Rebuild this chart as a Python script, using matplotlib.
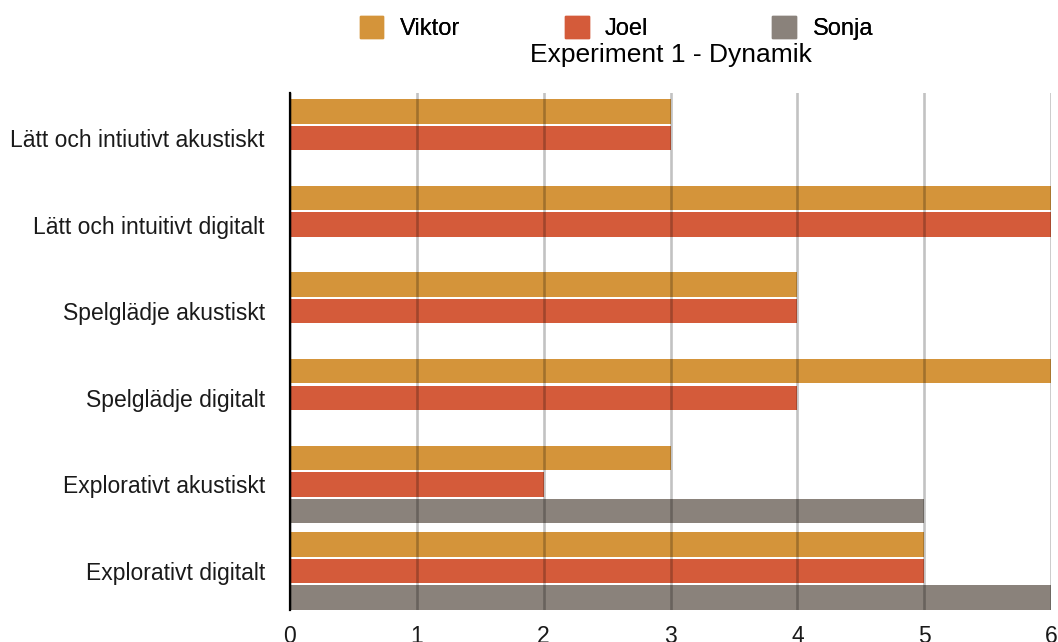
import numpy as np
import matplotlib.pyplot as plt
from matplotlib.patches import Patch

plt.rcParams['font.family'] = ['Liberation Sans', 'DejaVu Sans']

# Data
kategorier = ["Lätt och intiutivt akustiskt", "Lätt och intuitivt digitalt",
              "Spelglädje akustiskt", "Spelglädje digitalt",
              "Explorativt akustiskt", "Explorativt digitalt"]
viktor = [3, 6, 4, 6, 3, 5]
joel = [3, 6, 4, 4, 2, 5]
sonja = [0, 0, 0, 0, 5, 6]
namn = ["Viktor", "Joel", "Sonja"]
farger = ["#D4943A", "#D45B3A", "#8A827B"]

fig = plt.figure(figsize=(10.58, 6.42), dpi=100)
ax = fig.add_axes([0.274, 0.05, 0.7195, 0.805])

y = np.arange(len(kategorier))
steg = 0.307
hojd = 0.282
for i, (serie, farg) in enumerate(zip([viktor, joel, sonja], farger)):
    ax.barh(y + (i - 1) * steg, serie, height=hojd, color=farg, zorder=1)

ax.set_ylim(5.45, -0.52)
ax.set_xlim(0, 6)
ax.set_yticks(y)
ax.set_yticklabels(kategorier, fontsize=16.5, color='#1a1a1a')
ax.set_xticks(range(7))
ax.tick_params(axis='both', length=0, labelsize=16.5, labelcolor='#1a1a1a')
ax.tick_params(axis='y', pad=18)
ax.tick_params(axis='x', pad=11)
ax.grid(axis='x', color='black', alpha=0.24, linewidth=1.9, zorder=3)
ax.set_axisbelow(False)
for s in ['top', 'right', 'bottom']:
    ax.spines[s].set_visible(False)
ax.spines['left'].set_linewidth(1.6)
ax.spines['left'].set_zorder(4)

# Legend, one entry per column
xpos = [0.340, 0.534, 0.730]
for n, farg, xp in zip(namn, farger, xpos):
    leg = fig.legend(handles=[Patch(color=farg, label=n)], loc='center left',
                     bbox_to_anchor=(xp, 0.956), frameon=False, fontsize=17,
                     handlelength=1.0, handleheight=1.0, handletextpad=0.7,
                     borderaxespad=0, borderpad=0)
    fig.add_artist(leg)

fig.text(0.634, 0.914, "Experiment 1 - Dynamik", ha='center', va='center', fontsize=19)

fig.savefig("out.png", dpi=100)
